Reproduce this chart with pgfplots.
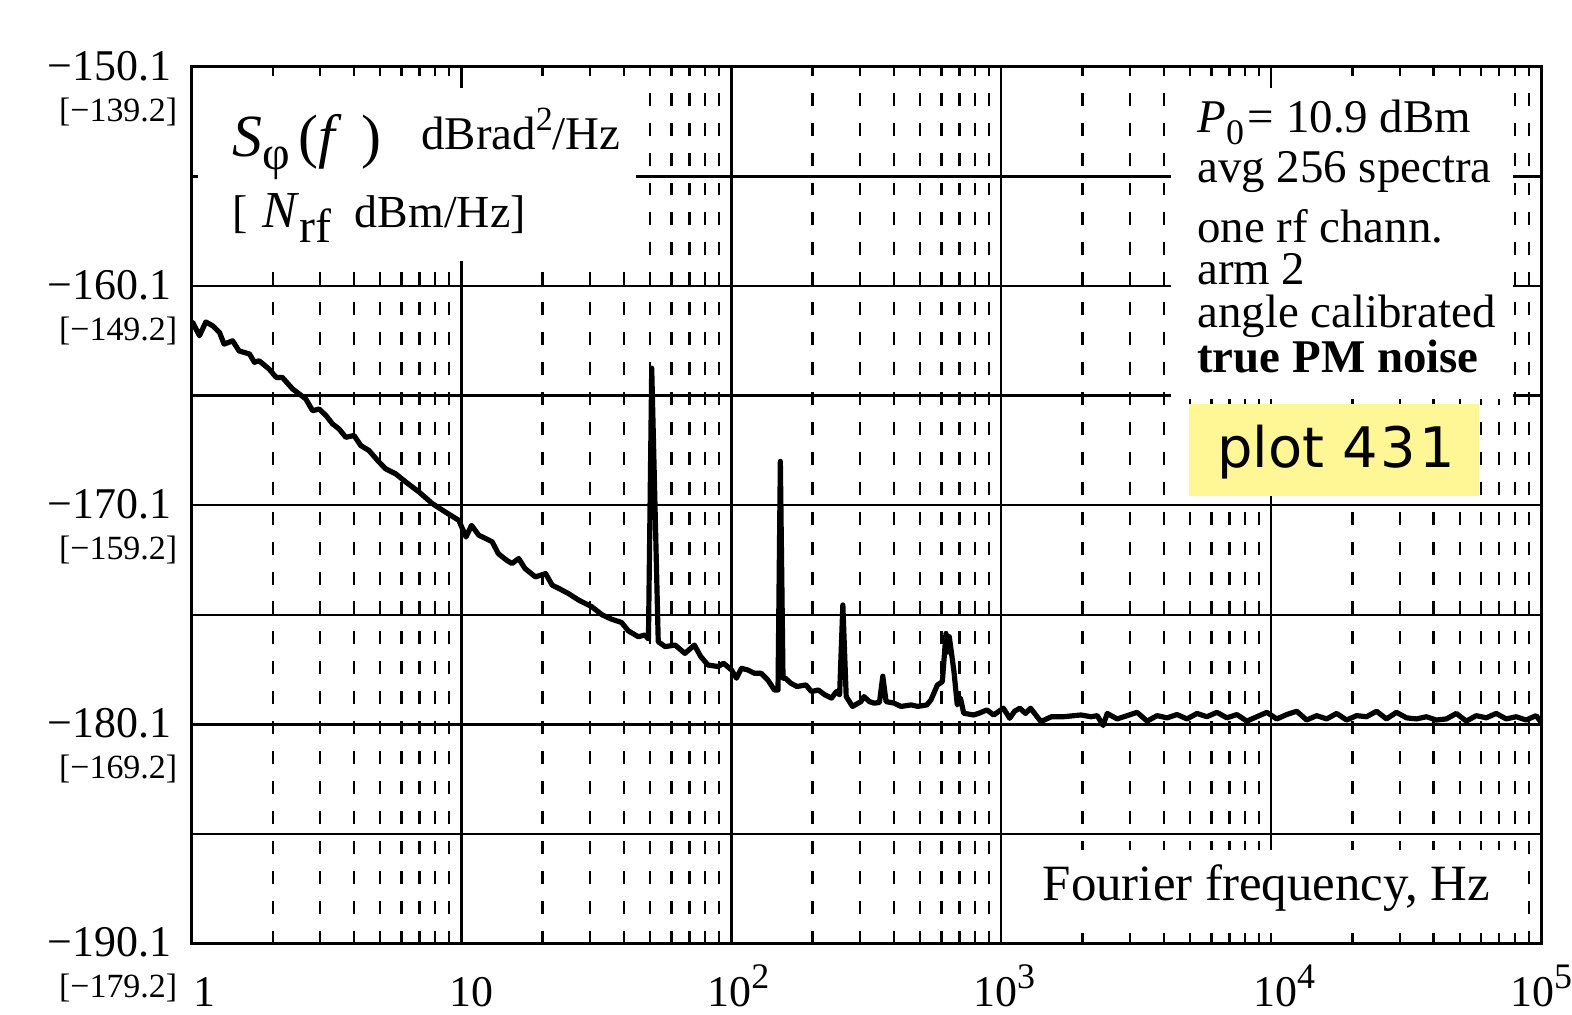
\documentclass[border=0pt]{standalone}
\usepackage{fontspec}
\setmainfont{Liberation Serif}
\newfontfamily\sansplot{DejaVu Sans}
\usepackage{pgfplots}
\pgfplotsset{compat=1.18}
\definecolor{noteyellow}{RGB}{255,246,150}
\newcommand{\fs}[1]{\fontsize{#1}{#1}\selectfont}
\newcommand{\ylab}[2]{#1\llap{\raisebox{-20.5pt}[0pt][0pt]{\fs{17pt}#2}\kern-3pt}}
\newcommand{\tsup}[1]{\raisebox{0.42em}{\fs{18pt}#1}}
\begin{document}
\begin{tikzpicture}
\path (0,0) rectangle (786pt,508.5pt);
\begin{axis}[
  at={(96pt,35.5pt)}, anchor=south west,
  scale only axis, width=676.5pt, height=439.5pt,
  xmode=log, xmin=1, xmax=100000, ymin=-190.1, ymax=-150.1,
  xtick={1,10,100,1000,10000,100000},
  xticklabels={{\hspace{13pt}1},{\hspace{10pt}10},{\hspace{7pt}10\tsup{2}},{\hspace{3pt}10\tsup{3}},{\hspace{13pt}10\tsup{4}},{10\tsup{5}\hspace{8pt}}},
  minor xtick={2,3,4,5,6,7,8,9,20,30,40,50,60,70,80,90,200,300,400,500,600,700,800,900,2000,3000,4000,5000,6000,7000,8000,9000,20000,30000,40000,50000,60000,70000,80000,90000},
  ytick={-190.1,-185.1,-180.1,-175.1,-170.1,-165.1,-160.1,-155.1,-150.1},
  yticklabels={\ylab{−190.1}{[−179.2]},{},\ylab{−180.1}{[−169.2]},{},\ylab{−170.1}{[−159.2]},{},\ylab{−160.1}{[−149.2]},{},\ylab{−150.1}{[−139.2]}},
  /pgf/number format/assume math mode=true,
  grid=both,
  major grid style={line width=1.2pt, black},
  minor grid style={line width=1.2pt, black, dash pattern=on 6.5pt off 8.5pt},
  axis line style={line width=1.5pt},
  major tick length=0pt, minor tick length=0pt,
  ticklabel style={font=\fs{22pt}},
  yticklabel style={anchor=east, inner sep=0pt, xshift=-10pt, yshift=0.5pt},
  xticklabel style={anchor=base, inner sep=0pt, yshift=-31.5pt},
]
\addplot[black, line width=2.6pt, line join=round] coordinates {
(1.00,-161.84) (1.01,-161.76) (1.07,-162.37) (1.13,-161.74) (1.20,-161.92) (1.27,-162.22)
(1.32,-162.75) (1.42,-162.60) (1.50,-163.06) (1.64,-163.20) (1.71,-163.58) (1.78,-163.51)
(1.94,-163.89) (2.06,-164.27) (2.17,-164.27) (2.37,-164.80) (2.51,-165.03) (2.65,-165.25)
(2.81,-165.79) (2.97,-165.71) (3.15,-166.01) (3.33,-166.39) (3.52,-166.62) (3.73,-167.00)
(4.00,-166.92) (4.24,-167.38) (4.54,-167.60) (4.95,-168.13) (5.24,-168.44) (5.71,-168.67)
(6.22,-169.04) (6.97,-169.50) (7.81,-170.03) (8.72,-170.41) (9.78,-170.79) (10.4,-171.55)
(10.9,-171.02) (11.6,-171.47) (12.3,-171.62) (13.0,-171.77) (13.7,-172.31) (14.7,-172.61)
(15.4,-172.76) (16.3,-172.53) (17.2,-172.99) (18.8,-173.37) (20.5,-173.22) (21.7,-173.75)
(23.0,-173.90) (24.9,-174.13) (27.2,-174.43) (30.4,-174.73) (33.2,-175.10) (36.0,-175.30)
(39.2,-175.45) (41.5,-175.83) (45.2,-176.10) (47.8,-176.02) (49.3,-176.20) (50.7,-163.85)
(53.6,-176.33) (56.9,-176.55) (61.9,-176.48) (67.3,-176.86) (73.0,-176.48) (77.0,-177.00)
(81.9,-177.39) (89.3,-177.46) (93.6,-177.31) (100.2,-177.62) (104.5,-177.99) (109.0,-177.54)
(115.3,-177.62) (121.9,-177.77) (129,-177.77) (136.5,-178.07) (144.4,-178.53) (148.9,-178.53)
(151.9,-168.10) (155.4,-177.99) (158.5,-177.99) (166,-178.22) (175,-178.37) (189,-178.30)
(198,-178.60) (210,-178.53) (222,-178.75) (235,-178.90) (245,-178.60) (251.8,-178.75)
(258.9,-174.65) (266.4,-178.83) (281,-179.28) (302,-179.06) (310,-178.83) (325,-179.06)
(338,-179.13) (353.8,-179.10) (364,-177.90) (374.4,-179.06) (401,-179.13) (425,-179.28)
(464,-179.21) (491,-179.28) (530,-179.21) (549,-178.98) (580,-178.30) (605,-178.15)
(624,-175.95) (633,-176.80) (642,-176.10) (668,-177.69) (687,-179.21) (706,-178.90)
(726,-179.59) (790,-179.67) (826,-179.59) (885,-179.44) (937,-179.67) (1018,-179.36)
(1075,-179.82) (1120,-179.50) (1171,-179.36) (1230,-179.60) (1284,-179.36) (1402,-179.97)
(1534,-179.75) (1700,-179.75) (1970,-179.67) (2153,-179.75) (2268,-179.70) (2385,-180.15)
(2469,-179.60) (2688,-179.85) (2927,-179.70) (3187,-179.55) (3470,-179.95) (3778,-179.70)
(4114,-179.80) (4479,-179.65) (4877,-179.85) (5311,-179.60) (5781,-179.75) (6295,-179.55)
(6854,-179.80) (7463,-179.65) (8124,-179.95) (8846,-179.75) (9634,-179.55) (10489,-179.85)
(11421,-179.65) (12433,-179.50) (13538,-179.90) (14741,-179.70) (16052,-179.85) (17474,-179.60)
(19028,-179.90) (20724,-179.70) (22559,-179.75) (24565,-179.50) (26743,-179.85) (29122,-179.55)
(31703,-179.80) (34525,-179.85) (37597,-179.75) (40926,-179.90) (44565,-179.85) (48516,-179.60)
(52834,-179.95) (57518,-179.70) (62636,-179.80) (68190,-179.60) (74262,-179.85) (80842,-179.75)
(88019,-179.90) (95834,-179.70) (100000,-180.00)
};
\end{axis}
\begin{scope}[x=0.5pt, y=-0.5pt, shift={(0pt,508.5pt)}]
\fill[white] (199,88) rectangle (638,262);
\fill[white] (1174,88) rectangle (1517,400);
\fill[white] (1006,852) rectangle (1530,935);
\fill[noteyellow] (1192,405) rectangle (1483,497);
\node[anchor=base west, inner sep=0pt] at (233,157) {\fs{30pt}\textit{S}\raisebox{-0.22em}{\fs{24pt}φ}\kern4pt(\textit{f}\kern10pt)};
\node[anchor=base west, inner sep=0pt] at (422,150) {\fs{23.5pt}dBrad\raisebox{0.4em}{\fs{17pt}2}/Hz};
\node[anchor=base west, inner sep=0pt] at (233,228) {\fs{23pt}[\kern7pt{\fs{26pt}\textit{N}}\raisebox{-0.32em}{\fs{24pt}rf}\kern12pt dBm/Hz]};
\node[anchor=base west, inner sep=0pt] at (1200,133) {\fs{23.5pt}\textit{P}\raisebox{-0.25em}{\fs{18pt}0}\kern2pt= 10.9 dBm};
\node[anchor=base west, inner sep=0pt] at (1200,183) {\fs{23.5pt}avg 256 spectra};
\node[anchor=base west, inner sep=0pt] at (1200,243) {\fs{23.5pt}one rf chann.};
\node[anchor=base west, inner sep=0pt] at (1200,285) {\fs{23.5pt}arm 2};
\node[anchor=base west, inner sep=0pt] at (1200,328) {\fs{23.5pt}angle calibrated};
\node[anchor=base west, inner sep=0pt] at (1200,373) {\fs{23.5pt}\bfseries true PM noise};
\node[anchor=base west, inner sep=0pt] at (1045,903) {\fs{25.5pt}Fourier frequency, Hz};
\node[anchor=base west, inner sep=0pt] at (1220,469) {\sansplot\fs{28pt}plot 4\kern1.5pt3\kern1.5pt1};
\end{scope}
\end{tikzpicture}
\end{document}
